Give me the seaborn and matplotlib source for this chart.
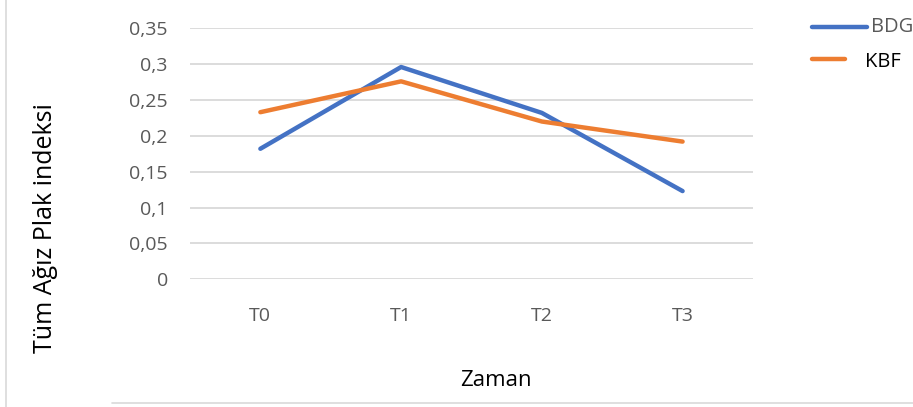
import pandas as pd
import seaborn as sns
import matplotlib.pyplot as plt
from matplotlib.lines import Line2D

times = ["T0", "T1", "T2", "T3"]
bdg = [0.182, 0.296, 0.232, 0.123]
kbf = [0.233, 0.276, 0.220, 0.192]
y_ticks = [0, 0.05, 0.1, 0.15, 0.2, 0.25, 0.3, 0.35]
y_labels = ["0", "0,05", "0,1", "0,15", "0,2", "0,25", "0,3", "0,35"]

df = pd.DataFrame({
    "Zaman": times * 2,
    "value": bdg + kbf,
    "grup": ["BDG"] * 4 + ["KBF"] * 4,
})

sns.set_style("white")
plt.rcParams["font.family"] = ["Open Sans", "DejaVu Sans"]

fig = plt.figure(figsize=(9.13, 4.07), dpi=100)
ax = fig.add_axes([0.2081, 0.3138, 0.6166, 0.6167])

colors = {"BDG": "#4472c4", "KBF": "#ed7d31"}
sns.lineplot(data=df, x="Zaman", y="value", hue="grup", palette=colors,
             linewidth=3.2, ax=ax, legend=False, sort=False)
for ln in ax.lines:
    ln.set_solid_capstyle("round")

ax.set_xlim(-0.5, 3.5)
ax.set_ylim(0, 0.35)
ax.set_yticks(y_ticks)
ax.set_yticklabels(y_labels)
ax.yaxis.grid(True, color="#d9d9d9", linewidth=1.3)
ax.xaxis.grid(False)
for s in ax.spines.values():
    s.set_visible(False)
ax.tick_params(axis="both", length=0, labelsize=14, labelcolor="#595959")
ax.tick_params(axis="y", pad=16)
ax.tick_params(axis="x", pad=20)
ax.set_xlabel("")
ax.set_ylabel("")

fig.text(46 / 913, 1 - 228 / 407, "Tüm Ağız Plak indeksi", rotation=90,
         ha="center", va="center", fontsize=18, color="#000000")
fig.text(496 / 913, 1 - 381 / 407, "Zaman", ha="center", va="center",
         fontsize=16, color="#000000")

# legend drawn by hand to keep Excel look
fig.add_artist(Line2D([812 / 913, 867 / 913], [1 - 27 / 407, 1 - 27 / 407],
                      color=colors["BDG"], linewidth=3.2, solid_capstyle="round"))
fig.text(871 / 913, 1 - 27 / 407, "BDG", ha="left", va="center",
         fontsize=14.5, color="#595959")
fig.add_artist(Line2D([812 / 913, 845 / 913], [1 - 59 / 407, 1 - 59 / 407],
                      color=colors["KBF"], linewidth=3.2))
fig.text(865 / 913, 1 - 62 / 407, "KBF", ha="left", va="center",
         fontsize=14.5, color="#000000")

# chart frame fragments
fig.add_artist(Line2D([6 / 913, 6 / 913], [0, 1], color="#d9d9d9", linewidth=1.2))
fig.add_artist(Line2D([112 / 913, 1], [1 - 403 / 407, 1 - 403 / 407],
                      color="#d9d9d9", linewidth=1.2))

fig.savefig("out.png", dpi=100)
